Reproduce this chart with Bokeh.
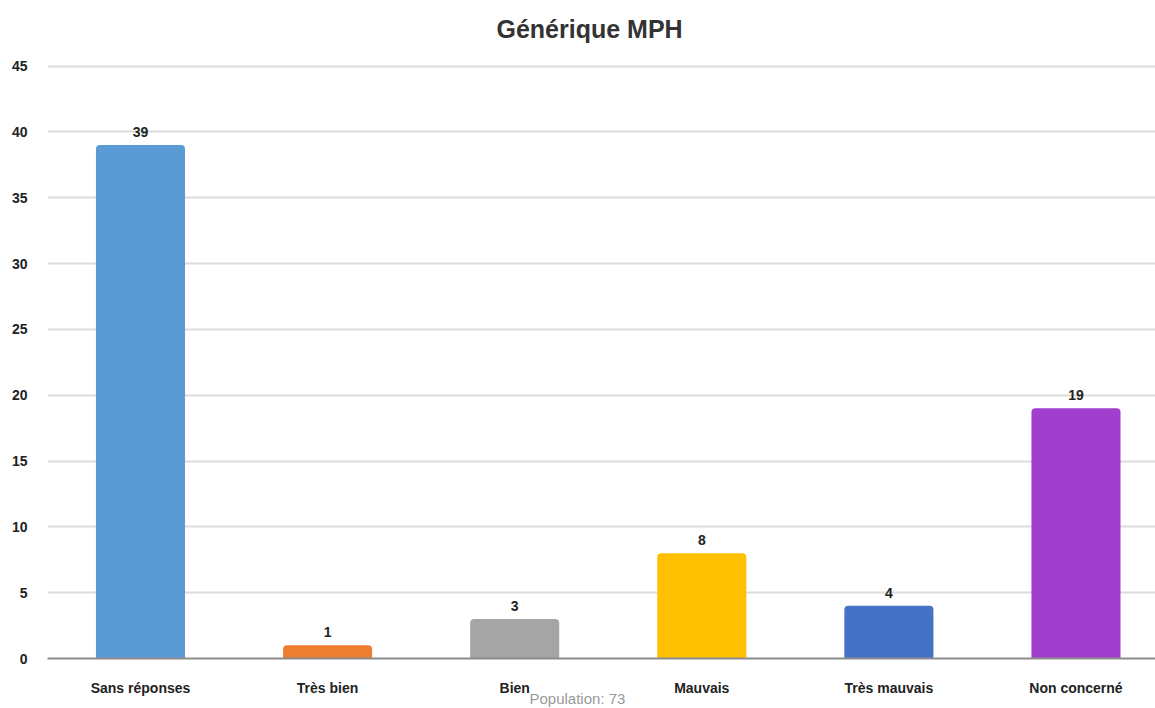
from bokeh.plotting import figure
from bokeh.models import ColumnDataSource, Range1d, FixedTicker, Title
from bokeh.core.properties import value
from bokeh.embed import file_html
from bokeh.resources import INLINE

categories = ["Sans réponses", "Très bien", "Bien", "Mauvais", "Très mauvais", "Non concerné"]
values = [39, 1, 3, 8, 4, 19]
colors = ["#5B9BD5", "#ED7D31", "#A5A5A5", "#FFC000", "#4472C4", "#A13ECD"]
y_ticks = [0, 5, 10, 15, 20, 25, 30, 35, 40, 45]
title_text = "Générique MPH"
footnote_text = "Population: 73"

FONT = "Liberation Sans"

xs = list(range(len(categories)))
src = ColumnDataSource(dict(x=xs, top=values, color=colors,
                            label=[str(v) for v in values]))

p = figure(width=1155, height=708, output_backend="svg", toolbar_location=None,
           x_range=Range1d(-0.497, 5.425), y_range=Range1d(0, 45.5),
           min_border_left=47, min_border_right=0, min_border_top=59,
           min_border_bottom=50)
p.outline_line_color = None
p.background_fill_color = "white"
p.border_fill_color = "white"

p.vbar(x="x", top="top", width=0.476, color="color", source=src,
       line_color=None, border_radius=(4, 4, 0, 0))
p.text(x="x", y="top", text="label", source=src, text_align="center",
       text_baseline="bottom", y_offset=-8, text_font=value(FONT),
       text_font_size="14px", text_font_style="bold", text_color="#222222")

# title
p.title.text = title_text
p.title.align = "left"
p.title.offset = 449
p.title.standoff = 29
p.title.vertical_align = "top"
p.title.text_font = FONT
p.title.text_font_size = "25px"
p.title.text_font_style = "bold"
p.title.text_color = "#333333"

# axes
p.xaxis.ticker = FixedTicker(ticks=xs)
p.xaxis.major_label_overrides = {i: c for i, c in zip(xs, categories)}
p.xaxis.major_tick_line_color = None
p.xaxis.major_tick_out = 0
p.xaxis.major_tick_in = 0
p.xaxis.minor_tick_line_color = None
p.xaxis.axis_line_color = "#8c8c8c"
p.xaxis.axis_line_width = 2
p.xaxis.major_label_standoff = 21
p.xaxis.major_label_text_font = FONT
p.xaxis.major_label_text_font_size = "14px"
p.xaxis.major_label_text_font_style = "bold"
p.xaxis.major_label_text_color = "#222222"

p.yaxis.ticker = FixedTicker(ticks=y_ticks)
p.yaxis.major_tick_line_color = None
p.yaxis.major_tick_out = 0
p.yaxis.major_tick_in = 0
p.yaxis.minor_tick_line_color = None
p.yaxis.axis_line_color = None
p.yaxis.major_label_standoff = 20
p.yaxis.major_label_text_font = FONT
p.yaxis.major_label_text_font_size = "14px"
p.yaxis.major_label_text_font_style = "bold"
p.yaxis.major_label_text_color = "#222222"

p.xgrid.grid_line_color = None
p.ygrid.grid_line_color = "#dcdcdc"
p.ygrid.grid_line_width = 2

p.add_layout(Title(text=footnote_text, align="left", offset=482, standoff=-18,
                   vertical_align="top",
                   text_font=FONT, text_font_size="15px", text_font_style="normal",
                   text_color="#9a9a9a"), "below")

open("out.html", "w").write(file_html(p, INLINE))
